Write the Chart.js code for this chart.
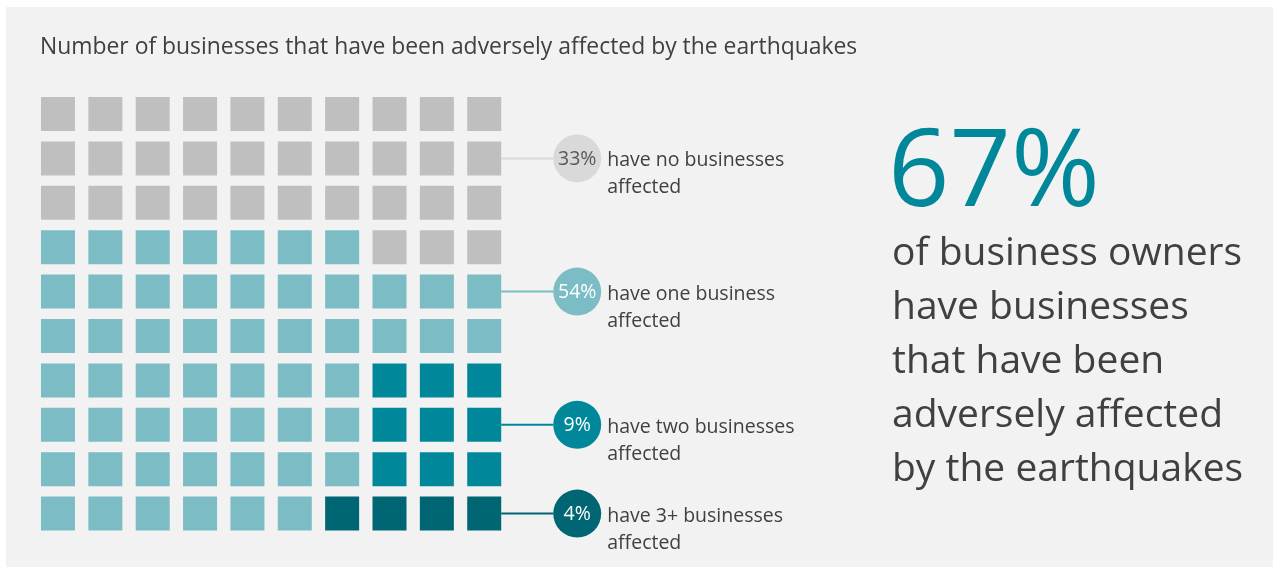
<!DOCTYPE html>
<html>
<head>
<meta charset="utf-8">
<script src="https://cdn.jsdelivr.net/npm/chart.js@4.4.1/dist/chart.umd.min.js"></script>
<style>
  html, body { margin: 0; background: #ffffff; }
  #wrap { width: 1275px; height: 569px; }
</style>
</head>
<body>
<div id="wrap"><canvas id="waffle" width="1275" height="569"></canvas></div>
<script>
const chartTitle = 'Number of businesses that have been adversely affected by the earthquakes';

const categories = [
    ['have no businesses', 'affected'],
    ['have one business', 'affected'],
    ['have two businesses', 'affected'],
    ['have 3+ businesses', 'affected']
];
const percents = [33, 54, 9, 4];

// category index of every square, top row first
const gridRows = [
    '0000000000',
    '0000000000',
    '0000000000',
    '1111111000',
    '1111111111',
    '1111111111',
    '1111111222',
    '1111111222',
    '1111111222',
    '1111113333'
];

// grid row each callout points at
const calloutRows = [1, 4, 7, 9];

const headline = '67%';
const headlineLines = [
    'of business owners',
    'have businesses',
    'that have been',
    'adversely affected',
    'by the earthquakes'
];

const colors = ['#bfbfbf', '#7bbcc5', '#00889a', '#006673'];
const lineColors = ['#d9d9d9', '#7bbcc5', '#00889a', '#006673'];
const circleColors = ['#d9d9d9', '#7bbcc5', '#00889a', '#006673'];
const textGray = '#404040';
const FONT = '"Open Sans", "Noto Sans", sans-serif';

function cellsFor(cat) {
    const pts = [];
    gridRows.forEach((row, r) => {
        row.split('').forEach((c, col) => {
            if (Number(c) === cat) pts.push({ x: col, y: r });
        });
    });
    return pts;
}

const waffleDecor = {
    id: 'waffleDecor',
    beforeDraw(chart) {
        const c = chart.ctx;
        c.save();
        c.fillStyle = '#ffffff';
        c.fillRect(0, 0, chart.width, chart.height);
        c.fillStyle = '#f2f2f2';
        c.fillRect(6, 7, 1267, 560);

        c.fillStyle = textGray;
        c.font = '22.9px ' + FONT;
        c.textBaseline = 'alphabetic';
        c.textAlign = 'left';
        c.fillText(chartTitle, 40, 54);
        c.restore();
    },
    afterDatasetsDraw(chart) {
        const c = chart.ctx;
        const xs = chart.scales.x, ys = chart.scales.y;
        const gridRight = xs.getPixelForValue(9) + 17;
        const cx = gridRight + 76, r = 24;
        c.save();
        calloutRows.forEach((row, k) => {
            const y = ys.getPixelForValue(row);
            c.strokeStyle = lineColors[k];
            c.lineWidth = 2;
            c.beginPath();
            c.moveTo(gridRight, y);
            c.lineTo(cx - r, y);
            c.stroke();

            c.fillStyle = circleColors[k];
            c.beginPath();
            c.arc(cx, y, r, 0, Math.PI * 2);
            c.fill();

            c.fillStyle = k === 0 ? '#595959' : '#ffffff';
            c.font = '19.5px ' + FONT;
            c.textAlign = 'center';
            c.textBaseline = 'middle';
            c.fillText(percents[k] + '%', cx, y + 1);

            c.fillStyle = textGray;
            c.font = '19.5px ' + FONT;
            c.textAlign = 'left';
            c.textBaseline = 'alphabetic';
            categories[k].forEach((line, i) => {
                c.fillText(line, cx + 30, y + 8 + i * 27);
            });
        });

        c.fillStyle = '#00889a';
        c.font = '107.5px ' + FONT;
        c.textAlign = 'left';
        c.fillText(headline, 888, 206);

        c.fillStyle = textGray;
        c.font = '39px ' + FONT;
        headlineLines.forEach((line, i) => {
            c.fillText(line, 892, 265 + i * 54);
        });
        c.restore();
    }
};

new Chart(document.getElementById('waffle'), {
    type: 'scatter',
    data: {
        datasets: categories.map((cat, k) => ({
            label: cat.join(' '),
            data: cellsFor(k),
            backgroundColor: colors[k],
            borderWidth: 0,
            pointStyle: 'rect',
            pointRadius: 24.04,
            pointHoverRadius: 24.04,
            clip: false
        }))
    },
    options: {
        responsive: false,
        animation: false,
        layout: {
            padding: { left: 34.3, right: 767.1, top: 91.8, bottom: 33.2 }
        },
        scales: {
            x: { type: 'linear', min: -0.5, max: 9.5, display: false },
            y: { type: 'linear', min: -0.5, max: 9.5, reverse: true, display: false }
        },
        plugins: {
            legend: { display: false },
            tooltip: { enabled: false }
        }
    },
    plugins: [waffleDecor]
});
</script>
</body>
</html>
